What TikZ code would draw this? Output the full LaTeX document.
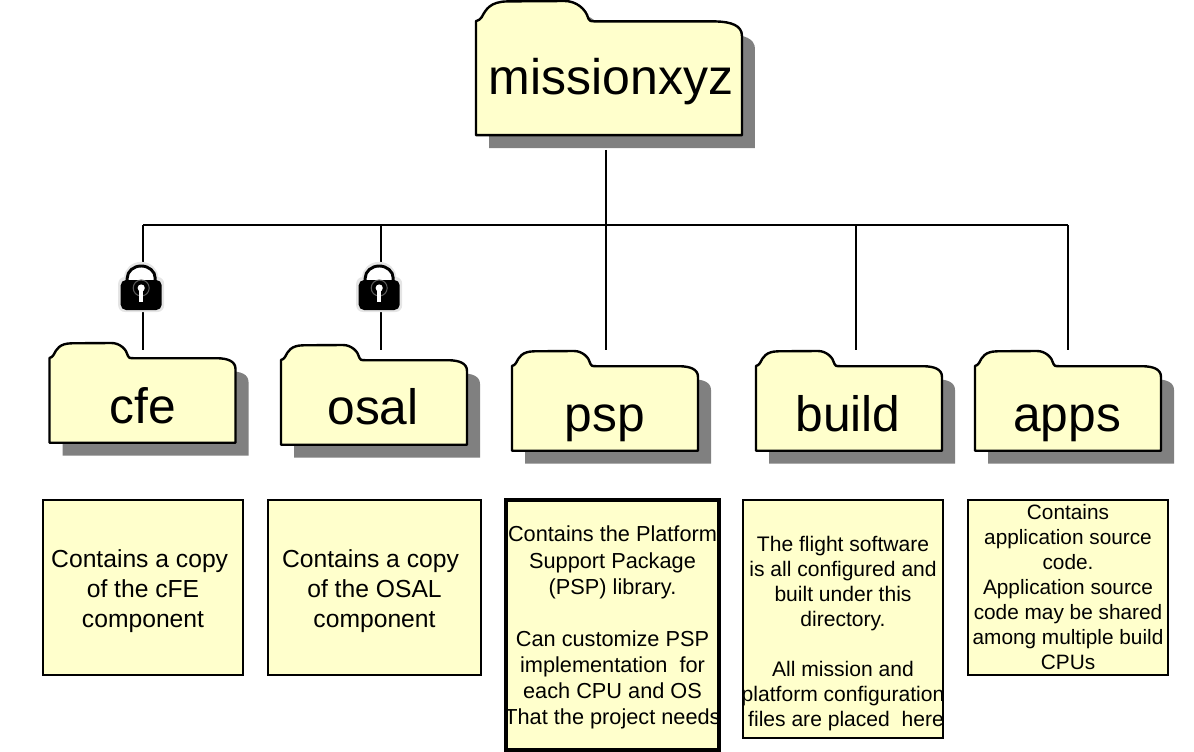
\documentclass[tikz,border=0pt]{standalone}
\usepackage{fontspec}
\setmainfont{Liberation Sans}
\usepackage{xcolor}
\definecolor{note}{HTML}{FFFFCC}
\definecolor{shade}{HTML}{808080}
\def\folderpath{(0,15) .. controls (2,14.5) and (3,13.5) .. (4,12) .. controls (7,6) and (10,0.5) .. (22,0.3) -- (62,0) .. controls (70,0) and (77,6) .. (78.5,13) .. controls (79,15) and (80,15) .. (84,15.2) -- (168,15.2) .. controls (178,15.5) and (186,18) .. (186,26) -- (186,99.7) -- (0,99.7) -- cycle}
\tikzset{
 folder/.style={draw=black,fill=note,line width=1.8pt,line join=round},
 foldershade/.style={fill=shade},
 foldertext/.style={anchor=base,font=\fontsize{37.3}{37.3}\selectfont,inner sep=0pt},
 notebox/.style={draw=black,fill=note,line width=1.5pt,anchor=north west,outer sep=0pt,inner ysep=0pt,inner xsep=-8pt,align=center,font=\fontsize{15.8}{18.75}\selectfont},
 link/.style={line width=1.5pt}
}
\begin{document}
\begin{tikzpicture}[x=0.75pt,y=-0.75pt]
\useasboundingbox (0,0) rectangle (1194,752);

%links
\coordinate (rootend) at (606,150);
\coordinate (hub) at (606,225);
\coordinate (buscfe) at (143,225);
\coordinate (busosal) at (381,225);
\coordinate (busbuild) at (856,225);
\coordinate (busapps) at (1068,225);
\foreach \n/\x in {cfe/143,osal/381,psp/606,build/856,apps/1068}
 \coordinate (end\n) at (\x,350);
\draw[link] (rootend) -- (hub) -- (endpsp);
\draw[link] (buscfe) -- (busapps);
\foreach \n in {cfe,osal,build,apps}
 \draw[link] (bus\n) -- (end\n);

%locks
\foreach \n/\x in {cfe/141.2,osal/379.2} {
 \begin{scope}[shift={(\x,288)}]
  \coordinate (lock\n) at (0,0);
  \fill[black!10,rounded corners=5pt] (-23,-11) rectangle (23,24);
  \draw[black!10,line width=4pt] (-14.5,-6) -- (-14.5,-10) arc(180:360:14.5 and 13.5) -- (14.5,-6);
  \draw[black,fill=white,line width=2.2pt] (-14,-6) -- (-14,-10) arc(180:360:14 and 12) -- (14,-6) -- cycle;
  \fill[black,rounded corners=4pt] (-20.5,-8) rectangle (20.5,22);
  \draw[black!65,line width=.8pt] (0,0) circle (8);
  \fill[white] (0,0) circle (3.6);
  \fill[white] (-2,0) rectangle (2,13.5);
 \end{scope}
}

%folders
\begin{scope}[shift={(489,14)},xscale=1.43,yscale=1.345]
 \fill[foldershade] \folderpath;
\end{scope}
\begin{scope}[shift={(476,1)},xscale=1.43,yscale=1.345]
 \draw[folder] \folderpath;
\end{scope}
\node[foldertext,font=\fontsize{37.5}{37.5}\selectfont] (missionxyz) at (611,95) {missionxyz};

\foreach \n/\x/\t/\c/\b in {cfe/49.5/343/142.5/423,osal/281/345/373/424,psp/512/351/605/431,build/756/351/848/431,apps/975/351/1067/431} {
 \begin{scope}[shift={(\x+13,\t+13)}]
  \fill[foldershade] \folderpath;
 \end{scope}
 \begin{scope}[shift={(\x,\t)}]
  \draw[folder] \folderpath;
 \end{scope}
 \node[foldertext] (\n) at (\c,\b) {\n};
}

%notes
\node[notebox,minimum width=150pt,minimum height=131.25pt,font=\fontsize{18.5}{22.8}\selectfont] (notecfe) at (43,500)
 {\rule{0pt}{18.75pt}Contains a copy\hspace*{5pt}\\of the cFE\hspace*{7.5pt}\\component};
\node[notebox,minimum width=159.75pt,minimum height=131.25pt,font=\fontsize{18.5}{22.8}\selectfont] (noteosal) at (268,500)
 {\rule{0pt}{18.75pt}Contains a copy\hspace*{6pt}\\of the OSAL\hspace*{7pt}\\component};
\node[notebox,line width=2.6pt,minimum width=159.75pt,minimum height=187.5pt,font=\fontsize{16.3}{19.6}\selectfont] (notepsp) at (506,500)
 {\rule{0pt}{16pt}Contains the Platform\\Support Package\hspace*{6.75pt}\\(PSP) library.\\\mbox{}\\Can customize PSP\hspace*{2pt}\\implementation\ \ for\hspace*{4pt}\\each CPU and OS\hspace*{1.5pt}\\That the project needs};
\node[notebox,minimum width=150pt,minimum height=178.5pt] (notebuild) at (743,500)
 {\rule{0pt}{15pt}\\The flight software\\is all configured and\\built under this\\directory.\\\mbox{}\\All mission and\\platform configuration\\\hspace*{4.5pt}files are placed\ \ here};
\node[notebox,minimum width=150pt,minimum height=131.25pt,font=\fontsize{15.6}{18.75}\selectfont] (noteapps) at (968,500)
 {Contains\\application source\\code.\\Application source\\code may be shared\\among multiple build\hspace*{6pt}\\CPUs};

\end{tikzpicture}
\end{document}
